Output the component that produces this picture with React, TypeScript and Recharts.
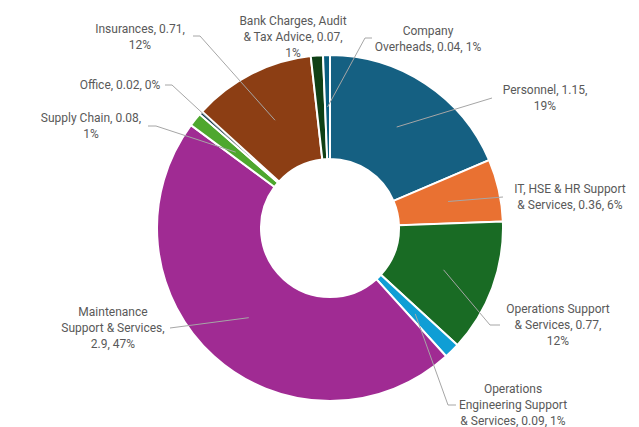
import { PieChart, Pie, Cell } from "recharts"

// cost breakdown, clockwise from 12 o'clock
const categories = [
  "Personnel",
  "IT, HSE & HR Support & Services",
  "Operations Support & Services",
  "Operations Engineering Support & Services",
  "Maintenance Support & Services",
  "Supply Chain",
  "Office",
  "Insurances",
  "Bank Charges, Audit & Tax Advice",
  "Company Overheads",
]
const values = [1.15, 0.36, 0.77, 0.09, 2.9, 0.08, 0.02, 0.71, 0.07, 0.04]
const labelText = [
  ["Personnel, 1.15,", "19%"],
  ["IT, HSE & HR Support", "& Services, 0.36, 6%"],
  ["Operations Support", "& Services, 0.77,", "12%"],
  ["Operations", "Engineering Support", "& Services, 0.09, 1%"],
  ["Maintenance", "Support & Services,", "2.9, 47%"],
  ["Supply Chain, 0.08,", "1%"],
  ["Office, 0.02, 0%"],
  ["Insurances, 0.71,", "12%"],
  ["Bank Charges, Audit", "& Tax Advice, 0.07,", "1%"],
  ["Company", "Overheads, 0.04, 1%"],
]

const colors = [
  "#156082",
  "#E97132",
  "#196B24",
  "#0F9ED5",
  "#A02B93",
  "#4EA72E",
  "#0D3A4E",
  "#8C3E14",
  "#0F4016",
  "#095F80",
]

// where each data label sits (text centre x, first line middle y) and the leader line ends
const labelLayout: { x: number; y: number; line?: [number, number][] }[] = [
  { x: 545, y: 90, line: [[492, 98]] },
  { x: 570, y: 189, line: [[503, 197]] },
  { x: 558, y: 309, line: [[490, 325], [500, 325]] },
  { x: 513, y: 389, line: [[448, 405], [456, 405]] },
  { x: 113, y: 312, line: [[170, 328]] },
  { x: 91, y: 118, line: [[156, 126], [148, 126]] },
  { x: 120, y: 85, line: [[172, 85], [165, 85]] },
  { x: 140, y: 29, line: [[200, 36], [193, 36]] },
  { x: 293, y: 21 },
  { x: 428, y: 31, line: [[365, 38], [372, 38]] },
]

const data = categories.map((name, i) => ({ name, value: values[i] }))

const RAD = Math.PI / 180

function renderLabel(props: any) {
  const { cx, cy, midAngle, innerRadius, outerRadius, index } = props
  const r = (innerRadius + outerRadius) / 2
  const sx = cx + r * Math.cos(-midAngle * RAD)
  const sy = cy + r * Math.sin(-midAngle * RAD)
  const layout = labelLayout[index]
  const lines = labelText[index]
  const pts = layout.line ? [[sx, sy], ...layout.line] : null
  return (
    <g key={`label-${index}`}>
      {pts && (
        <polyline
          points={pts.map((p) => p.join(",")).join(" ")}
          fill="none"
          stroke="#A6A6A6"
          strokeWidth={1}
        />
      )}
      <text
        x={layout.x}
        y={layout.y}
        textAnchor="middle"
        fill="#595959"
        fontSize={12}
        fontFamily="Roboto, sans-serif"
      >
        {lines.map((t, j) => (
          <tspan key={j} x={layout.x} dy={j === 0 ? 4 : 16}>
            {t}
          </tspan>
        ))}
      </text>
    </g>
  )
}

export default function App() {
  return (
    <div style={{ width: 639, height: 427, background: "#fff" }}>
      <style>{"body{margin:0}"}</style>
      <PieChart
        width={639}
        height={427}
        margin={{ top: 0, right: 0, bottom: 0, left: 0 }}
      >
        <Pie
          data={data}
          dataKey="value"
          nameKey="name"
          cx={330}
          cy={228}
          innerRadius={69}
          outerRadius={173}
          startAngle={90}
          endAngle={-270}
          stroke="#fff"
          strokeWidth={2}
          label={renderLabel}
          labelLine={false}
          isAnimationActive={false}
        >
          {data.map((d, i) => (
            <Cell key={d.name} fill={colors[i]} />
          ))}
        </Pie>
      </PieChart>
    </div>
  )
}
